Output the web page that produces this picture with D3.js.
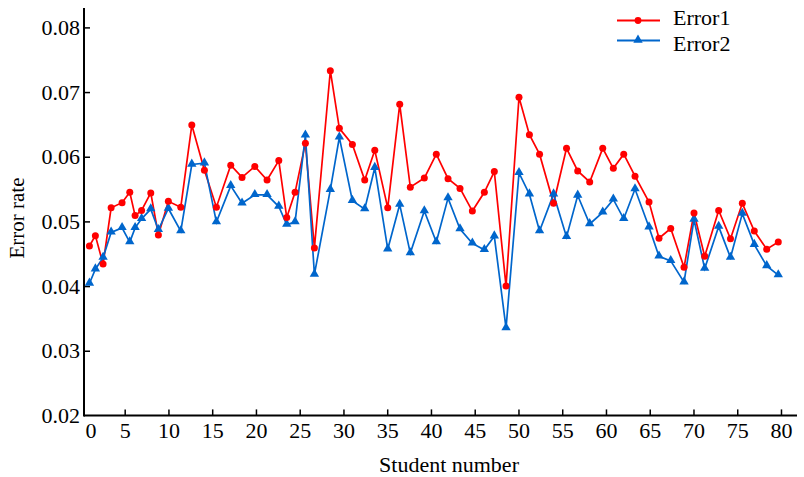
<!DOCTYPE html>
<html>
<head>
<meta charset="utf-8">
<script src="https://cdn.jsdelivr.net/npm/d3@7/dist/d3.min.js"></script>
<style>
  html, body { margin: 0; padding: 0; background: #fff; }
  svg { display: block; }
  text { font-family: "Liberation Serif", "Times New Roman", serif; fill: #000; }
</style>
</head>
<body>
<svg id="chart" width="804" height="477"></svg>
<script>
// Student number (as plotted position) for each point
const studentX = [0.97, 1.65, 2.53, 3.45, 4.70, 5.58, 6.19, 6.93, 7.98, 8.85,
  9.99, 11.41, 12.67, 14.11, 15.48, 17.12, 18.41, 19.87, 21.27, 22.61,
  23.52, 24.47, 25.65, 26.68, 28.50, 29.53, 31.02, 32.43, 33.58, 35.06,
  36.43, 37.64, 39.24, 40.61, 41.95, 43.32, 44.73, 46.10, 47.24, 48.58,
  50.06, 51.25, 52.41, 54.01, 55.49, 56.77, 58.14, 59.63, 60.84, 62.03,
  63.32, 64.92, 66.06, 67.40, 68.92, 70.06, 71.28, 72.88, 74.23, 75.58,
  76.95, 78.37, 79.69];

const error1 = [0.0462, 0.0478, 0.0434, 0.0521, 0.0529, 0.0545, 0.0509, 0.0517, 0.0544, 0.0479,
  0.0531, 0.0522, 0.0649, 0.0579, 0.0522, 0.0587, 0.0568, 0.0585, 0.0564, 0.0594,
  0.0506, 0.0545, 0.0621, 0.0459, 0.0733, 0.0644, 0.0619, 0.0564, 0.0610, 0.0521,
  0.0681, 0.0553, 0.0567, 0.0604, 0.0566, 0.0551, 0.0516, 0.0545, 0.0577, 0.0400,
  0.0692, 0.0634, 0.0604, 0.0528, 0.0613, 0.0578, 0.0561, 0.0613, 0.0582, 0.0604,
  0.0570, 0.0530, 0.0474, 0.0489, 0.0429, 0.0513, 0.0446, 0.0517, 0.0473, 0.0528,
  0.0485, 0.0457, 0.0468];

const error2 = [0.0404, 0.0426, 0.0444, 0.0483, 0.0490, 0.0468, 0.0490, 0.0504, 0.0519, 0.0487,
  0.0520, 0.0485, 0.0588, 0.0590, 0.0499, 0.0555, 0.0528, 0.0541, 0.0541, 0.0523,
  0.0495, 0.0499, 0.0633, 0.0418, 0.0549, 0.0630, 0.0532, 0.0519, 0.0583, 0.0457,
  0.0526, 0.0451, 0.0516, 0.0468, 0.0536, 0.0488, 0.0466, 0.0456, 0.0477, 0.0335,
  0.0575, 0.0542, 0.0485, 0.0542, 0.0476, 0.0540, 0.0496, 0.0514, 0.0534, 0.0504,
  0.0550, 0.0491, 0.0446, 0.0439, 0.0406, 0.0503, 0.0427, 0.0492, 0.0444, 0.0512,
  0.0464, 0.0431, 0.0417];

const xTicks = [0, 5, 10, 15, 20, 25, 30, 35, 40, 45, 50, 55, 60, 65, 70, 75, 80];
const yTicks = [0.02, 0.03, 0.04, 0.05, 0.06, 0.07, 0.08];
const seriesNames = ["Error1", "Error2"];
const seriesColors = ["#ff0000", "#0066cc"];

const svg = d3.select("#chart");
const plotLeft = 84, plotRight = 797, plotTop = 8, plotBottom = 415.4;
const fontSize = 22;

const x = d3.scaleLinear().domain([0.35, 81.83]).range([plotLeft, plotRight]);
const y = d3.scaleLinear().domain([0.02, 0.083]).range([plotBottom, plotTop]);

// X axis
const xAxis = svg.append("g")
  .attr("transform", `translate(0,${plotBottom})`)
  .call(d3.axisBottom(x).tickValues(xTicks).tickSize(-6).tickSizeOuter(0).tickPadding(7)
    .tickFormat(d3.format("d")));
xAxis.select(".domain").attr("d", `M${plotLeft},0H${plotRight}`).attr("stroke", "#000").attr("stroke-width", 2);
xAxis.selectAll(".tick line").attr("stroke", "#000").attr("stroke-width", 1.5);
xAxis.selectAll(".tick text").attr("font-size", fontSize);
xAxis.selectAll(".tick").filter(d => d === 0).select("line").remove();
xAxis.selectAll(".tick").filter(d => d === 0).select("text").attr("text-anchor", "start").attr("x", 4);

// Y axis
const yAxis = svg.append("g")
  .attr("transform", `translate(${plotLeft},0)`)
  .call(d3.axisLeft(y).tickValues(yTicks).tickSize(-6).tickSizeOuter(0).tickPadding(4)
    .tickFormat(d3.format(".2f")));
yAxis.select(".domain").attr("d", `M0,${plotTop}V${plotBottom + 1}`).attr("stroke", "#000").attr("stroke-width", 2);
yAxis.selectAll(".tick line").attr("stroke", "#000").attr("stroke-width", 1.5);
yAxis.selectAll(".tick").filter(d => d === 0.02).select("line").remove();
yAxis.selectAll(".tick text").attr("font-size", fontSize);

// Axis titles
svg.append("text")
  .attr("x", 449).attr("y", 472)
  .attr("text-anchor", "middle")
  .attr("font-size", fontSize)
  .text("Student number");

svg.append("text")
  .attr("transform", "translate(24,218) rotate(-90)")
  .attr("text-anchor", "middle")
  .attr("font-size", 21)
  .text("Error rate");

// Series
const series = [error1, error2];
const line = d3.line().x(d => x(d[0])).y(d => y(d[1]));

series.forEach((vals, i) => {
  const pts = studentX.map((sx, j) => [sx, vals[j]]);
  svg.append("path")
    .datum(pts)
    .attr("fill", "none")
    .attr("stroke", seriesColors[i])
    .attr("stroke-width", 1.7)
    .attr("d", line);
});

// Blue triangles
const tri = d3.symbol().type(d3.symbolTriangle).size(38);
svg.append("g").selectAll("path")
  .data(studentX.map((sx, j) => [sx, error2[j]]))
  .join("path")
  .attr("d", tri)
  .attr("transform", d => `translate(${x(d[0])},${y(d[1]) - 0.5})`)
  .attr("fill", seriesColors[1]);

// Red circles
svg.append("g").selectAll("circle")
  .data(studentX.map((sx, j) => [sx, error1[j]]))
  .join("circle")
  .attr("cx", d => x(d[0]))
  .attr("cy", d => y(d[1]))
  .attr("r", 3.5)
  .attr("fill", seriesColors[0]);

// Legend
const legend = svg.append("g").attr("transform", "translate(617,0)");
seriesNames.forEach((name, i) => {
  const ly = 20.5 + i * 20;
  const ty = 17 + i * 26;
  legend.append("line")
    .attr("x1", 0).attr("x2", 43).attr("y1", ly).attr("y2", ly)
    .attr("stroke", seriesColors[i]).attr("stroke-width", 2);
  if (i === 0) {
    legend.append("circle").attr("cx", 21).attr("cy", ly).attr("r", 3.4).attr("fill", seriesColors[i]);
  } else {
    legend.append("path").attr("d", tri).attr("transform", `translate(21,${ly - 0.5})`).attr("fill", seriesColors[i]);
  }
  legend.append("text")
    .attr("x", 56).attr("y", ty)
    .attr("dy", "0.35em")
    .attr("font-size", fontSize)
    .text(name);
});
</script>
</body>
</html>
